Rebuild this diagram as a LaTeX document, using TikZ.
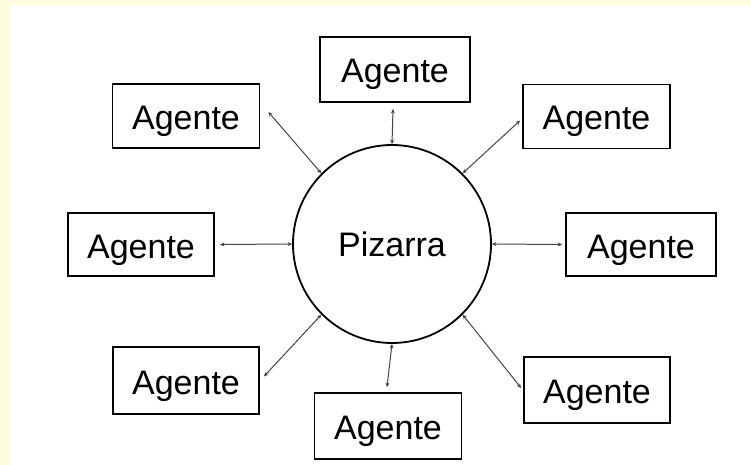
\documentclass[tikz,border=0pt]{standalone}
\usepackage{fontspec}
\setmainfont{Liberation Sans}
\usetikzlibrary{arrows.meta,calc}
\definecolor{cream}{HTML}{FFFCE0}
\definecolor{conncol}{HTML}{444444}
\begin{document}
\begin{tikzpicture}[x=1pt,y=-1pt,
  agent/.style={draw=black,line width=1.8pt,fill=white,inner sep=0pt,text height=30pt,text depth=3pt,minimum width=147pt,minimum height=64pt,font=\fontsize{34}{40}\selectfont},
  board/.style={circle,draw=black,line width=1.8pt,inner sep=0pt,minimum size=198pt,font=\fontsize{34}{40}\selectfont},
  conn/.style={draw=conncol,line width=1pt,{Stealth[length=4.5pt,width=4pt]}-{Stealth[length=4.5pt,width=4pt]}}]
\fill[cream] (0,0) rectangle (751,465);
\fill[white] (11,5) rectangle (751,465);
\useasboundingbox (0,0) rectangle (751,465);
\node[board] (p) at (392,244) {Pizarra};
\node[agent] (tl) at (186,116) {Agente};
\node[agent,minimum width=150pt,minimum height=65pt] (t) at (395,69.5) {Agente};
\node[agent] (tr) at (596.5,116.5) {Agente};
\node[agent,minimum width=146pt,minimum height=63pt] (l) at (141,244.5) {Agente};
\node[agent,minimum width=150pt,minimum height=63pt] (r) at (641,244.5) {Agente};
\node[agent,minimum width=146pt,minimum height=67pt] (bl) at (186,380.5) {Agente};
\node[agent,minimum width=147pt,minimum height=66pt] (b) at (388,426) {Agente};
\node[agent,minimum width=146pt,minimum height=66pt] (br) at (597,390) {Agente};
\coordinate (tle) at ($(tl.east)+(8,-4)$);
\coordinate (tte) at ($(t.south)+(-2,6)$);
\coordinate (tre) at ($(tr.west)+(-2,4)$);
\coordinate (le) at ($(l.east)+(5,0)$);
\coordinate (re) at ($(r.west)+(-3,0)$);
\coordinate (ble) at ($(bl.east)+(4,-4)$);
\coordinate (bte) at ($(b.north)+(-1,-5)$);
\coordinate (bre) at ($(br.west)+(-2,-2)$);
\draw[conn] (tle) -- (p.135);
\draw[conn] (tte) -- (p.90);
\draw[conn] (tre) -- (p.45);
\draw[conn] (le) -- (p.180);
\draw[conn] (p.0) -- (re);
\draw[conn] (ble) -- (p.225);
\draw[conn] (p.270) -- (bte);
\draw[conn] (p.315) -- (bre);
\end{tikzpicture}
\end{document}
